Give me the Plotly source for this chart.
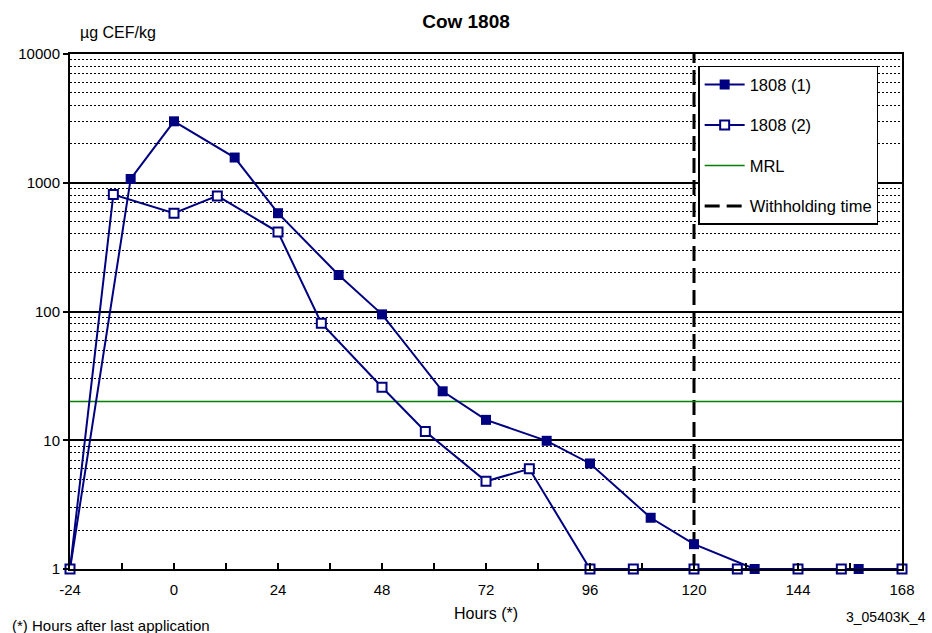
import plotly.graph_objects as go

# ---------------- data ----------------
s1_hours = [-24, -10, 0, 14, 24, 38, 48, 62, 72, 86, 96, 110, 120, 134, 144, 158, 168]
s1_vals = [1, 1070, 3000, 1570, 580, 192, 95, 24, 14.4, 9.9, 6.6, 2.5, 1.56, 1, 1, 1, 1]
s2_hours = [-24, -14, 0, 10, 24, 34, 48, 58, 72, 82, 96, 106, 120, 130, 144, 154, 168]
s2_vals = [1, 810, 580, 790, 414, 81, 25.8, 11.7, 4.8, 6.0, 1, 1, 1, 1, 1, 1, 1]
mrl_value = 20
withholding_hours = 120
x_min, x_max = -24, 168
y_min, y_max = 1, 10000

x_tickvals = list(range(-24, 169, 12))
x_ticktext = [str(v) if v % 24 == 0 else "" for v in x_tickvals]
y_tickvals = [1, 10, 100, 1000, 10000]
y_ticktext = ["1", "10", "100", "1000", "10000"]
y_minor = [m * 10 ** k for k in range(4) for m in range(2, 10)]

NAVY = "#000080"
FONT = "Liberation Sans, Arial, sans-serif"

fig = go.Figure()

fig.add_trace(go.Scatter(
    x=[withholding_hours, withholding_hours], y=[y_min, y_max],
    mode="lines", name="Withholding time",
    line=dict(color="black", width=3, dash="15px,7px"),
    legendrank=4, legendgroup="d", cliponaxis=False,
))
fig.add_trace(go.Scatter(
    x=[x_min, x_max], y=[mrl_value, mrl_value],
    mode="lines", name="MRL",
    line=dict(color="#008000", width=1.5),
    legendrank=3, legendgroup="c",
))
fig.add_trace(go.Scatter(
    x=s1_hours, y=s1_vals, mode="lines+markers", name="1808 (1)",
    line=dict(color=NAVY, width=2),
    marker=dict(symbol="square", size=10, color=NAVY, line=dict(color=NAVY, width=0)),
    legendrank=1, legendgroup="a", cliponaxis=False,
))
fig.add_trace(go.Scatter(
    x=s2_hours, y=s2_vals, mode="lines+markers", name="1808 (2)",
    line=dict(color=NAVY, width=2),
    marker=dict(symbol="square", size=9, color="white", line=dict(color=NAVY, width=2)),
    legendrank=2, legendgroup="b", cliponaxis=False,
))

fig.update_xaxes(
    range=[x_min, x_max], showgrid=False, zeroline=False,
    showline=True, linecolor="black", linewidth=2, mirror=True,
    tickmode="array", tickvals=x_tickvals, ticktext=x_ticktext,
    ticks="inside", ticklen=6, tickwidth=2, tickcolor="black",
    tickfont=dict(size=15, color="black", family=FONT),
    ticklabelstandoff=6,
)
fig.update_yaxes(
    type="log", range=[0, 4], zeroline=False,
    showline=True, linecolor="black", linewidth=2, mirror=True,
    tickmode="array", tickvals=y_tickvals, ticktext=y_ticktext,
    ticks="outside", ticklen=5, tickwidth=1.5, tickcolor="black",
    tickfont=dict(size=15, color="black", family=FONT),
    showgrid=True, gridcolor="black", gridwidth=2,
    minor=dict(tickmode="array", tickvals=y_minor, showgrid=True,
               gridcolor="black", gridwidth=1.2, griddash="2px,2px", ticks=""),
)

fig.update_layout(
    width=932, height=633,
    margin=dict(l=70, r=30, t=54, b=64),
    paper_bgcolor="white", plot_bgcolor="white",
    font=dict(family=FONT, size=15, color="black"),
    title=dict(text="<b>Cow 1808</b>", x=466 / 932, xref="container", xanchor="center",
               y=1 - 21 / 633, yref="container", yanchor="middle",
               font=dict(size=19, family=FONT, color="black")),
    showlegend=True,
    legend=dict(x=0.755, y=0.977, xanchor="left", yanchor="top",
                bgcolor="white", bordercolor="black", borderwidth=1.5,
                font=dict(size=16.5, family=FONT, color="black"),
                traceorder="grouped", tracegroupgap=16, itemwidth=40),
    annotations=[
        dict(text="µg CEF/kg", xref="paper", yref="paper", x=(78 - 70) / 832, y=(569 - 33) / 515,
             xanchor="left", yanchor="middle", showarrow=False, font=dict(size=16)),
        dict(text="Hours (*)", xref="paper", yref="paper", x=0.5, y=(569 - 613) / 515,
             xanchor="center", yanchor="middle", showarrow=False, font=dict(size=16)),
        dict(text="(*) Hours after last application", xref="paper", yref="paper",
             x=(10 - 70) / 832, y=(569 - 625) / 515,
             xanchor="left", yanchor="middle", showarrow=False, font=dict(size=15)),
        dict(text="3_05403K_4", xref="paper", yref="paper", x=(928 - 70) / 832, y=(569 - 617) / 515,
             xanchor="right", yanchor="middle", showarrow=False, font=dict(size=14)),
    ],
)

fig.write_html("out.html")
